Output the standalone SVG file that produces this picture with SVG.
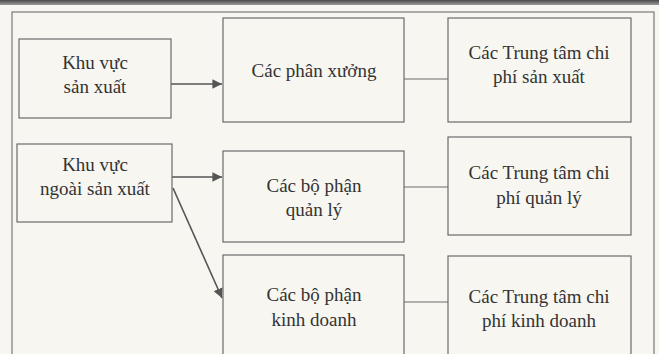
<svg xmlns="http://www.w3.org/2000/svg" width="659" height="354" viewBox="0 0 659 354">
  <style>
    .box { fill: none; stroke: #6b6b6b; stroke-width: 1.2; }
    .frame { fill: none; stroke: #7a7a7a; stroke-width: 1.2; }
    .link { fill: none; stroke: #555; stroke-width: 1.6; }
    .plain { fill: none; stroke: #6b6b6b; stroke-width: 1.1; }
    text { font-family: "Liberation Serif", "Times New Roman", serif; font-size: 19px; fill: #333; text-anchor: middle; }
  </style>
  <defs>
    <marker id="arrow" viewBox="0 0 10 10" refX="10" refY="5" markerWidth="6" markerHeight="6" markerUnits="strokeWidth" orient="auto">
      <path d="M0,0 L10,5 L0,10 z" fill="#555"/>
    </marker>
    <linearGradient id="band" x1="0" y1="0" x2="0" y2="1">
      <stop offset="0" stop-color="#4a4a4a"/>
      <stop offset="1" stop-color="#9a9a9a"/>
    </linearGradient>
  </defs>

  <!-- page and outer frame -->
  <rect x="0" y="0" width="659" height="354" fill="#f7f6f1"/>
  <rect x="0" y="0" width="659" height="5" fill="url(#band)"/>
  <rect class="frame" x="12" y="12" width="642" height="350"/>

  <g id="connectors">
    <line class="link" x1="171" y1="84" x2="222" y2="84" marker-end="url(#arrow)"/>
    <line class="link" x1="172" y1="177" x2="222" y2="177" marker-end="url(#arrow)"/>
    <line class="link" x1="173" y1="188" x2="222" y2="298" marker-end="url(#arrow)"/>
    <line class="plain" x1="404" y1="79" x2="448" y2="79"/>
    <line class="plain" x1="404" y1="187" x2="448" y2="187"/>
    <line class="plain" x1="404" y1="302" x2="448" y2="302"/>
  </g>

  <g id="khu-vuc-san-xuat">
    <rect class="box" x="19" y="39" width="152" height="79"/>
    <text x="95" y="69">Khu vực</text>
    <text x="95" y="93">sản xuất</text>
  </g>

  <g id="khu-vuc-ngoai-san-xuat">
    <rect class="box" x="17" y="144" width="155" height="78"/>
    <text x="95" y="171">Khu vực</text>
    <text x="95" y="195">ngoài sản xuất</text>
  </g>

  <g id="cac-phan-xuong">
    <rect class="box" x="223" y="18" width="181" height="104"/>
    <text x="314" y="77">Các phân xưởng</text>
  </g>

  <g id="cac-bo-phan-quan-ly">
    <rect class="box" x="223" y="151" width="181" height="91"/>
    <text x="314" y="192">Các bộ phận</text>
    <text x="314" y="216">quản lý</text>
  </g>

  <g id="cac-bo-phan-kinh-doanh">
    <rect class="box" x="223" y="255" width="181" height="110"/>
    <text x="314" y="301">Các bộ phận</text>
    <text x="314" y="326">kinh doanh</text>
  </g>

  <g id="trung-tam-chi-phi-san-xuat">
    <rect class="box" x="448" y="18" width="183" height="104"/>
    <text x="539" y="59">Các Trung tâm chi</text>
    <text x="539" y="83">phí sản xuất</text>
  </g>

  <g id="trung-tam-chi-phi-quan-ly">
    <rect class="box" x="448" y="137" width="183" height="98"/>
    <text x="539" y="179">Các Trung tâm chi</text>
    <text x="539" y="204">phí quản lý</text>
  </g>

  <g id="trung-tam-chi-phi-kinh-doanh">
    <rect class="box" x="448" y="256" width="183" height="110"/>
    <text x="539" y="303">Các Trung tâm chi</text>
    <text x="539" y="327">phí kinh doanh</text>
  </g>
</svg>
